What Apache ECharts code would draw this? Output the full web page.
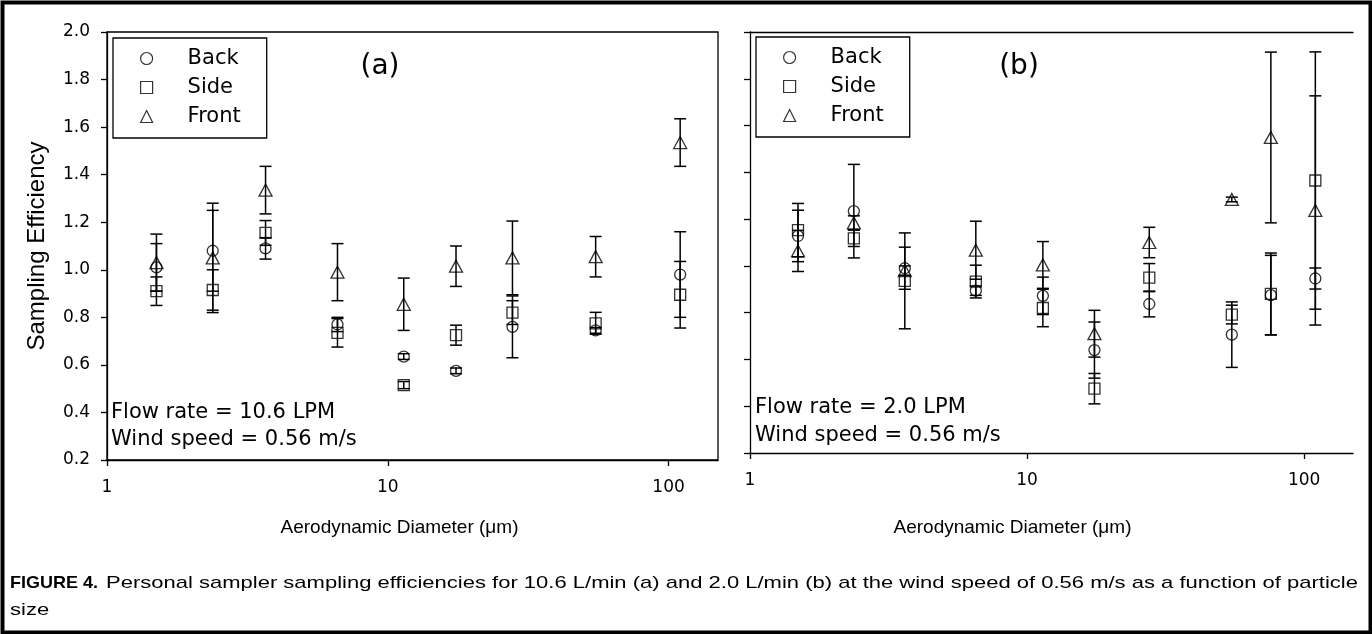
<!DOCTYPE html>
<html>
<head>
<meta charset="utf-8">
<title>Personal sampler sampling efficiencies</title>
<script src="https://cdn.jsdelivr.net/npm/echarts@6/dist/echarts.min.js"></script>
<style>
  html, body { margin: 0; padding: 0; background: #fff; }
  #chart { width: 1372px; height: 634px; }
</style>
</head>
<body>
<div id="chart"></div>
<script>
// Panel (a): 10.6 L/min. Aerodynamic diameter (µm), mean efficiency and standard deviation
const sizesA = [1.5, 2.38, 3.67, 6.62, 11.4, 17.5, 27.8, 55, 110];
const backA = [1.01, 1.08, 1.09, 0.77, 0.635, 0.575, 0.76, 0.745, 0.98];
const backSdA = [0.10, 0.17, 0.045, 0.03, 0.012, 0.012, 0.13, 0.012, 0.18];
const sideA = [0.91, 0.915, 1.155, 0.735, 0.515, 0.725, 0.82, 0.775, 0.895];
const sideSdA = [0.06, 0.085, 0.052, 0.06, 0.015, 0.042, 0.05, 0.046, 0.14];
const frontA = [1.03, 1.05, 1.335, 0.99, 0.855, 1.015, 1.05, 1.055, 1.535];
const frontSdA = [0.12, 0.23, 0.10, 0.12, 0.11, 0.085, 0.155, 0.085, 0.10];

// Panel (b): 2.0 L/min
const sizesB = [1.49, 2.37, 3.62, 6.53, 11.4, 17.5, 27.6, 54.8, 75.8, 109.7];
const backB = [1.128, 1.234, 0.99, 0.894, 0.872, 0.64, 0.837, 0.706, 0.875, 0.946];
const backSdB = [0.11, 0.20, 0.09, 0.02, 0.08, 0.12, 0.055, 0.14, 0.17, 0.045];
const sideB = [1.153, 1.118, 0.936, 0.933, 0.82, 0.475, 0.95, 0.792, 0.88, 1.365];
const sideSdB = [0.114, 0.035, 0.205, 0.07, 0.08, 0.065, 0.06, 0.04, 0.175, 0.55];
const frontB = [1.064, 1.184, 0.98, 1.067, 1.004, 0.71, 1.10, 1.284, 1.549, 1.237];
const frontSdB = [0.088, 0.03, 0.02, 0.124, 0.10, 0.10, 0.065, 0.01, 0.365, 0.49];

const seriesNames = ['Back', 'Side', 'Front'];
const symbols = ['circle', 'rect', 'triangle'];
const symbolSizes = [11, 11, [13, 12]];
const yTicks = { min: 0.2, max: 2.0, step: 0.2 };
const xRange = { min: 1, max: 150 };

const captionLead = 'FIGURE 4.';
const captionLine1 = 'Personal sampler sampling efficiencies for 10.6 L/min (a) and 2.0 L/min (b) at the wind speed of 0.56 m/s as a function of particle';
const captionLine2 = 'size';

const tickFont = 'DejaVu Sans';
const titleFont = 'Liberation Sans';
const hollow = { color: 'rgba(0,0,0,0)', borderColor: '#000', borderWidth: 1.3 };

function pointData(xs, ys) {
  return xs.map((x, i) => [x, ys[i]]);
}

function errorData(xs, ys, sds) {
  return xs.map((x, i) => [x, ys[i] - sds[i], ys[i] + sds[i]]);
}

// vertical error bar with caps at both ends
function renderErrorBar(params, api) {
  const x = api.value(0);
  const lo = api.coord([x, api.value(1)]);
  const hi = api.coord([x, api.value(2)]);
  const half = 6;
  const style = { stroke: '#000', lineWidth: 1.5 };
  return {
    type: 'group',
    children: [
      { type: 'line', shape: { x1: lo[0], y1: hi[1], x2: lo[0], y2: lo[1] }, style: style },
      { type: 'line', shape: { x1: lo[0] - half, y1: hi[1], x2: lo[0] + half, y2: hi[1] }, style: style },
      { type: 'line', shape: { x1: lo[0] - half, y1: lo[1], x2: lo[0] + half, y2: lo[1] }, style: style }
    ]
  };
}

function panelSeries(axisIndex, xs, groups) {
  const out = [];
  groups.forEach((g) => {
    out.push({
      type: 'custom',
      xAxisIndex: axisIndex,
      yAxisIndex: axisIndex,
      renderItem: renderErrorBar,
      encode: { x: 0, y: [1, 2] },
      data: errorData(xs, g.vals, g.sds),
      z: 3,
      silent: true
    });
  });
  groups.forEach((g, k) => {
    out.push({
      name: seriesNames[k],
      type: 'scatter',
      xAxisIndex: axisIndex,
      yAxisIndex: axisIndex,
      symbol: symbols[k],
      symbolSize: symbolSizes[k],
      itemStyle: hollow,
      emphasis: { disabled: true },
      data: pointData(xs, g.vals),
      z: 2
    });
  });
  return out;
}

const series = []
  .concat(panelSeries(0, sizesA, [
    { vals: backA, sds: backSdA },
    { vals: sideA, sds: sideSdA },
    { vals: frontA, sds: frontSdA }
  ]))
  .concat(panelSeries(1, sizesB, [
    { vals: backB, sds: backSdB },
    { vals: sideB, sds: sideSdB },
    { vals: frontB, sds: frontSdB }
  ]));

const axisLineStyle = { color: '#000', width: 1.3 };

function xAxis(gridIndex, nameGap, namePadRight) {
  return {
    type: 'log',
    logBase: 10,
    gridIndex: gridIndex,
    min: xRange.min,
    max: xRange.max,
    name: 'Aerodynamic Diameter (\u03bcm)',
    nameLocation: 'middle',
    nameGap: nameGap,
    nameTextStyle: { fontFamily: titleFont, fontSize: 19, color: '#000', padding: [0, namePadRight, 0, 0] },
    axisLine: { show: true, lineStyle: axisLineStyle },
    axisTick: { show: true, length: 6, lineStyle: axisLineStyle },
    axisLabel: { fontFamily: tickFont, fontSize: 17, color: '#000', margin: 19, showMaxLabel: false },
    splitLine: { show: false }
  };
}

function yAxis(gridIndex, showLabels) {
  return {
    type: 'value',
    gridIndex: gridIndex,
    min: yTicks.min,
    max: yTicks.max,
    interval: yTicks.step,
    name: showLabels ? 'Sampling Efficiency' : '',
    nameLocation: 'middle',
    nameGap: 58,
    nameTextStyle: { fontFamily: titleFont, fontSize: 24, color: '#000' },
    axisLine: { show: true, lineStyle: axisLineStyle },
    axisTick: { show: true, length: 6, lineStyle: axisLineStyle },
    axisLabel: {
      show: showLabels, fontFamily: tickFont, fontSize: 17, color: '#000', margin: 17,
      formatter: v => v.toFixed(1)
    },
    splitLine: { show: false }
  };
}

function legend(left, top) {
  return {
    data: seriesNames,
    orient: 'vertical',
    left: left,
    top: top,
    itemWidth: 12,
    itemHeight: 12,
    itemGap: 8,
    padding: [10, 26, 11, 27],
    borderColor: '#000',
    borderWidth: 1.3,
    selectedMode: false,
    itemStyle: { color: 'rgba(0,0,0,0)', borderColor: '#000', borderWidth: 1.2 },
    textStyle: { fontFamily: tickFont, fontSize: 21, color: '#000', padding: [0, 0, 0, 30], lineHeight: 20 }
  };
}

// caption: bold lead, a first line stretched to the full text width, then the last line
const capSize = 17;
const capFont = capSize + 'px "' + titleFont + '"';
const capBold = 'bold ' + capSize + 'px "' + titleFont + '"';
function captionGraphics(lineStart, lineEnd, y1, y2) {
  const ctx = document.createElement('canvas').getContext('2d');
  ctx.font = capFont;
  const natural = ctx.measureText(captionLine1).width;
  const stretch = (lineEnd - lineStart) / natural;
  return [
    { type: 'text', x: 10, y: y1, scaleX: 1.06, style: { text: captionLead, font: capBold, fill: '#000', verticalAlign: 'middle' } },
    { type: 'text', x: lineStart, y: y1, scaleX: stretch, style: { text: captionLine1, font: capFont, fill: '#000', verticalAlign: 'middle' } },
    { type: 'text', x: 10, y: y2, scaleX: stretch, style: { text: captionLine2, font: capFont, fill: '#000', verticalAlign: 'middle' } }
  ];
}

function plainText(text, x, y, font, align) {
  return { type: 'text', x: x, y: y, style: { text: text, font: font, fill: '#000', align: align || 'left', verticalAlign: 'middle' } };
}

const panelFont = '28px "' + tickFont + '"';
const noteFont = '21px "' + tickFont + '"';

const option = {
  backgroundColor: '#fff',
  animation: false,
  grid: [
    { left: 107, top: 32, width: 611, height: 428, show: true, borderColor: '#000', borderWidth: 1.3, backgroundColor: 'rgba(0,0,0,0)' },
    { left: 750, top: 32, width: 603, height: 421 }
  ],
  xAxis: [
    xAxis(0, 58, 26),
    xAxis(1, 65, 78),
    // top edge of panel (b)
    {
      type: 'log', logBase: 10, gridIndex: 1, position: 'top', min: xRange.min, max: xRange.max,
      axisLine: { show: true, lineStyle: axisLineStyle }, axisTick: { show: false },
      axisLabel: { show: false }, splitLine: { show: false }
    }
  ],
  yAxis: [yAxis(0, true), yAxis(1, false)],
  legend: [legend(113, 38), legend(756, 37)],
  series: series,
  graphic: [
    {
      type: 'rect', left: 0, top: 0, silent: true,
      shape: { x: 2, y: 2, width: 1368, height: 630 },
      style: { fill: 'none', stroke: '#000', lineWidth: 4 }
    },
    plainText('(a)', 380, 67, panelFont, 'center'),
    plainText('(b)', 1019, 67, panelFont, 'center'),
    plainText('Flow rate = 10.6 LPM', 111, 413, noteFont),
    plainText('Wind speed = 0.56 m/s', 111, 440, noteFont),
    plainText('Flow rate = 2.0 LPM', 755, 408, noteFont),
    plainText('Wind speed = 0.56 m/s', 755, 436, noteFont)
  ].concat(captionGraphics(106, 1358, 583, 610))
};

const chart = echarts.init(document.getElementById('chart'), null, { renderer: 'canvas' });
chart.setOption(option);
</script>
</body>
</html>
